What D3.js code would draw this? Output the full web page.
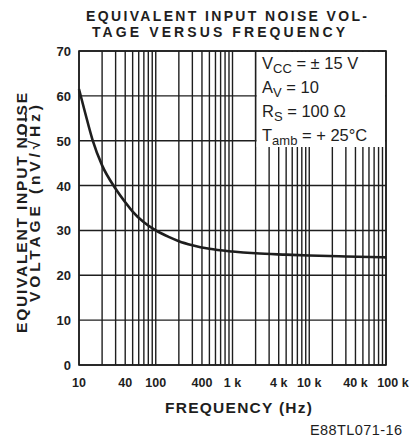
<!DOCTYPE html>
<html>
<head>
<meta charset="utf-8">
<script src="https://cdn.jsdelivr.net/npm/d3@7"></script>
<style>
  body { margin: 0; background: #fff; }
  svg { display: block; }
  text { font-family: "Liberation Sans", Arial, sans-serif; fill: #1e1e1e; }
</style>
</head>
<body>
<svg id="chart" width="413" height="439"></svg>
<script>
// noise curve
const freq = [10, 12, 15, 20, 30, 40, 50, 70, 100, 150, 200, 300, 500, 1000, 2000, 5000, 10000, 30000, 100000];
const noise = [61.5, 56.3, 50.2, 44.5, 39.3, 36.3, 34.2, 31.8, 30, 28.5, 27.6, 26.7, 25.9, 25.3, 24.9, 24.6, 24.4, 24.2, 24];

const xTicks = [10, 40, 100, 400, 1000, 4000, 10000, 40000, 100000];
const xTickLabels = ['10', '40', '100', '400', '1 k', '4 k', '10 k', '40 k', '100 k'];
const yTicks = [0, 10, 20, 30, 40, 50, 60, 70];

const condMain = ['V', 'A', 'R', 'T'];
const condSub = ['CC', 'V', 'S', 'amb'];
const condRest = ['= \u00b1 15 V', '= 10', '= 100 \u03a9', '= + 25\u00b0C'];

(function () {
  const INK = '#1e1e1e';
  const L = 79, R = 386, T = 51, B = 365;
  const svg = d3.select('#chart');

  const x = d3.scaleLog().domain([10, 100000]).range([L, R]);
  const y = d3.scaleLinear().domain([0, 70]).range([B, T]);

  // log grid: 1..9 in each decade
  const gridX = [];
  [10, 100, 1000, 10000].forEach((d) => { for (let m = 1; m <= 9; m++) gridX.push(d * m); });
  gridX.push(100000);

  const grid = svg.append('g').attr('stroke', INK).attr('stroke-width', 1.4);
  grid.selectAll('line.v').data(gridX).join('line')
    .attr('class', 'v')
    .attr('x1', (d) => x(d)).attr('x2', (d) => x(d))
    .attr('y1', T).attr('y2', B);
  grid.selectAll('line.h').data(yTicks).join('line')
    .attr('class', 'h')
    .attr('x1', L).attr('x2', R)
    .attr('y1', (d) => y(d)).attr('y2', (d) => y(d));

  // conditions box (blanks the grid in the upper right)
  const boxL = x(2000), boxB = 147;
  svg.append('rect')
    .attr('x', boxL + 1).attr('y', T + 1)
    .attr('width', R - boxL - 2).attr('height', boxB - T - 1)
    .attr('fill', '#fff');
  svg.append('line')
    .attr('x1', boxL).attr('x2', boxL).attr('y1', T).attr('y2', 140)
    .attr('stroke', INK).attr('stroke-width', 1.4);

  // frame
  svg.append('rect')
    .attr('x', L).attr('y', T).attr('width', R - L).attr('height', B - T)
    .attr('fill', 'none').attr('stroke', INK).attr('stroke-width', 1.6);

  // curve
  const line = d3.line()
    .x((d, i) => x(freq[i]))
    .y((d) => y(d))
    .curve(d3.curveMonotoneX);
  svg.append('path')
    .datum(noise)
    .attr('d', line)
    .attr('fill', 'none')
    .attr('stroke', INK)
    .attr('stroke-width', 2.6)
    .attr('stroke-linejoin', 'round');

  // y tick labels
  svg.append('g').selectAll('text').data(yTicks).join('text')
    .attr('x', 71).attr('y', (d) => y(d) + 5)
    .attr('text-anchor', 'end')
    .attr('font-size', 13).attr('font-weight', 'bold')
    .text((d) => d);

  // x tick labels
  svg.append('g').selectAll('text').data(xTicks).join('text')
    .attr('x', (d, i) => x(d) + (i === xTicks.length - 1 ? 7 : 0))
    .attr('y', 387)
    .attr('text-anchor', 'middle')
    .attr('font-size', 12.5).attr('font-weight', 'bold')
    .text((d, i) => xTickLabels[i]);

  // conditions
  const cond = svg.append('g').attr('font-size', 16.5);
  condMain.forEach((m, i) => {
    const t = cond.append('text').attr('x', 262).attr('y', 69 + i * 24);
    t.append('tspan').text(m);
    t.append('tspan').attr('font-size', 13).attr('dy', 4).text(condSub[i]);
    t.append('tspan').attr('dy', -4).text(' ' + condRest[i]);
  });

  // titles
  svg.append('text').attr('x', 86).attr('y', 21)
    .attr('font-size', 14).attr('font-weight', 'bold')
    .attr('textLength', 281).attr('lengthAdjust', 'spacing')
    .text('EQUIVALENT INPUT NOISE VOL-');
  svg.append('text').attr('x', 92).attr('y', 37)
    .attr('font-size', 14).attr('font-weight', 'bold')
    .attr('textLength', 253).attr('lengthAdjust', 'spacing')
    .text('TAGE VERSUS FREQUENCY');

  svg.append('text').attr('x', 165).attr('y', 413)
    .attr('font-size', 15.5).attr('font-weight', 'bold')
    .attr('textLength', 147).attr('lengthAdjust', 'spacing')
    .text('FREQUENCY (Hz)');

  svg.append('text').attr('x', 310).attr('y', 435)
    .attr('font-size', 14.5)
    .attr('textLength', 92).attr('lengthAdjust', 'spacing')
    .text('E88TL071-16');

  // y axis title, two lines
  svg.append('text')
    .attr('transform', 'translate(27,333) rotate(-90)')
    .attr('font-size', 15.5).attr('font-weight', 'bold')
    .attr('textLength', 240).attr('lengthAdjust', 'spacing')
    .text('EQUIVALENT INPUT NOISE');
  const yl2 = svg.append('text')
    .attr('transform', 'translate(40,302) rotate(-90)')
    .attr('font-size', 15.5).attr('font-weight', 'bold')
    .attr('textLength', 197).attr('lengthAdjust', 'spacing');
  yl2.append('tspan').text('VOLTAGE (nV/\u221a');
  yl2.append('tspan').style('text-decoration', 'overline').text('Hz');
  yl2.append('tspan').text(')');
})();
</script>
</body>
</html>
